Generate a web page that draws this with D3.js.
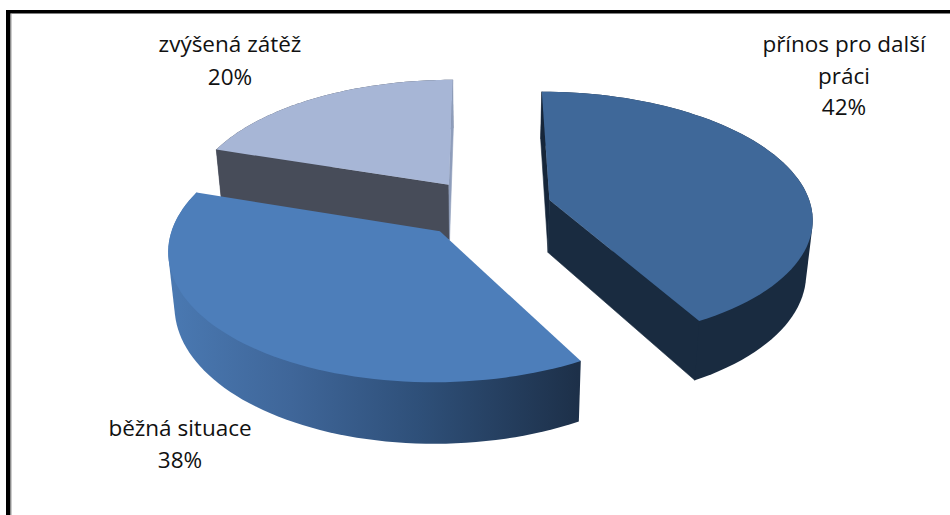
<!DOCTYPE html>
<html>
<head>
<meta charset="utf-8">
<style>
html,body{margin:0;padding:0;background:#fff;}
svg{display:block;}
text{font-family:"Open Sans",Lato,sans-serif;font-size:22.5px;fill:#111;text-anchor:middle;}
</style>
<script src="https://cdn.jsdelivr.net/npm/d3@7/dist/d3.min.js"></script>
</head>
<body>
<svg id="chart" width="950" height="515"></svg>
<script>
// Survey shares, in clockwise order from twelve o'clock
const categories = ["přínos pro další práci", "běžná situace", "zvýšená zátěž"];
const shares = [42, 38, 20];

const width = 950, height = 515;

// Perspective model of the tilted disc
const view = {
  originX: 487, originY: 208,   // pie centre on screen
  vanishX: 483,                 // column the receding lines converge on
  radius: 262, tilt: 0.475,
  perspective: 0.0005,
  bottomScale: 0.98             // lower rim is slightly further from the eye
};

// Pull-out of each slice across and into the ground plane, and its thickness
const pullX = [63, -46, -39];
const pullV = [17, -48, 50];
const depth = [53, 52, 56];

const topFill = ["#3F6899", "#4D7EBA", "#A7B6D6"];
const wallFill = ["#192B40", "url(#rimFront)", "#474C59"];
const sliverFill = ["#16263A", null, "#8E9DBB"];

// Drawing order runs back to front
const paintOrder = [2, 0, 1];

const svg = d3.select("#chart");

// Frame along the top and left
svg.append("rect").attr("x", 6).attr("y", 10).attr("width", width - 6).attr("height", 3.5).attr("fill", "#000");
svg.append("rect").attr("x", 6).attr("y", 10).attr("width", 4.5).attr("height", height - 10).attr("fill", "#000");
svg.append("rect").attr("x", 10.5).attr("y", 13.5).attr("width", 1).attr("height", height - 13.5).attr("fill", "#999");

const defs = svg.append("defs");
const rim = defs.append("linearGradient").attr("id", "rimFront")
  .attr("gradientUnits", "userSpaceOnUse")
  .attr("x1", 168).attr("x2", 578).attr("y1", 0).attr("y2", 0);
[[0, "#4A79B2"], [0.3, "#3F6699"], [0.62, "#2E4F78"], [1, "#1D3049"]].forEach(([o, c]) =>
  rim.append("stop").attr("offset", o).attr("stop-color", c));

const arcs = d3.pie().value(d => d).sort(null)(shares);
const line = d3.line().x(d => d[0]).y(d => d[1]);

// Ground-plane point (X right of the vanishing column, V away from the viewer) to screen
function toScreen(X, V, drop) {
  const f = 1 / (1 + view.perspective * V);
  let x = view.vanishX + X * f;
  let y = view.originY - view.tilt * V * f;
  if (drop) {
    x = view.vanishX + (x - view.vanishX) * view.bottomScale;
    y += drop * f;
  }
  return [x, y];
}

paintOrder.forEach(i => {
  const arc = arcs[i];
  const cX = view.originX - view.vanishX + pullX[i];
  const cV = pullV[i];
  const at = (a, r, drop) => toScreen(cX + r * Math.sin(a), cV + r * Math.cos(a), drop);
  const angles = d3.range(0, 73).map(k => arc.startAngle + (arc.endAngle - arc.startAngle) * k / 72);
  const topArc = angles.map(a => at(a, view.radius, 0));
  const lowArc = angles.map(a => at(a, view.radius, depth[i]));
  const g = svg.append("g").attr("class", "slice");

  // Outer rim: the hull keeps the silhouette tangent between upper and lower arcs
  g.append("path")
    .attr("d", line(d3.polygonHull(topArc.concat(lowArc))) + "Z")
    .attr("fill", wallFill[i]);

  // Radial walls; the two beside twelve o'clock show as thin slivers
  if (i !== 1) {
    [arc.startAngle, arc.endAngle].forEach((a, side) => {
      const wall = [at(a, 0, 0), at(a, view.radius, 0), at(a, view.radius, depth[i]), at(a, 0, depth[i])];
      const sliver = (i === 0 && side === 0) || (i === 2 && side === 1);
      const fill = sliver ? sliverFill[i] : wallFill[i];
      g.append("path").attr("d", line(wall) + "Z").attr("fill", fill)
        .attr("stroke", fill).attr("stroke-width", 0.6);
    });
  }

  // Top face
  g.append("path")
    .attr("d", line([at(arc.startAngle, 0, 0)].concat(topArc)) + "Z")
    .attr("fill", topFill[i]);
});

// Data labels: name lines with the share underneath
const labelLines = [["přínos pro další", "práci"], ["běžná situace"], ["zvýšená zátěž"]];
const labelAnchor = [[844, 52], [180, 436], [230, 52]];
const lineGap = [31.5, 32, 33];
categories.forEach((c, i) => {
  const lines = labelLines[i].concat(shares[i] + "%");
  const t = svg.append("text").attr("class", "label");
  lines.forEach((s, k) => t.append("tspan")
    .attr("x", labelAnchor[i][0])
    .attr("y", labelAnchor[i][1] + k * lineGap[i])
    .text(s));
});
</script>
</body>
</html>
